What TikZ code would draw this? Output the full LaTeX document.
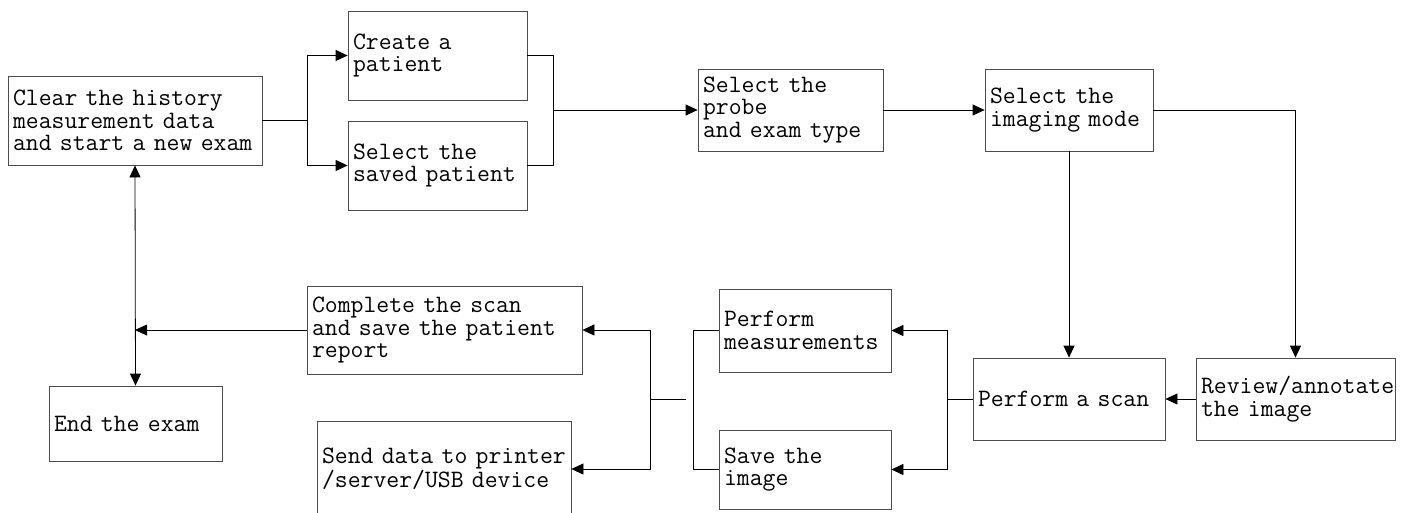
\documentclass[tikz,border=0pt]{standalone}
\usepackage{fontspec}
\usepackage{tikz}
\usetikzlibrary{arrows.meta}

\begin{document}
\begin{tikzpicture}[x=1pt, y=-1pt,
    stepbox/.style={draw=black!70, line width=0.8pt, rectangle, inner xsep=5pt, inner ysep=0pt,
      align=left, font=\fontsize{25}{22.5}\selectfont\ttfamily},
    flow/.style={-{Triangle[length=12pt, width=11pt]}, line width=0.8pt},
    link/.style={line width=0.8pt}]
  \useasboundingbox (0,0) rectangle (1404,512);
  \clip (0,0) rectangle (1404,512);
  \fill[white] (0,0) rectangle (1404,512);

  % upper row
  \node[stepbox, text width=244pt, minimum height=89pt] (clear) at (135,120.5) {Clear the history\\measurement data\\and start a new exam};
  \node[stepbox, text width=169pt, minimum height=89pt] (create) at (437.5,55.5) {Create a\\patient};
  \node[stepbox, text width=169pt, minimum height=89pt] (saved) at (437.5,165.5) {Select the\\saved patient};
  \node[stepbox, text width=175pt, minimum height=82pt] (probe) at (790.5,110) {Select the\\probe\\and exam type};
  \node[stepbox, text width=158pt, minimum height=82pt] (imaging) at (1069,110) {Select the\\imaging mode};

  % lower row
  \node[stepbox, text width=189pt, minimum height=82pt] (review) at (1295.5,399) {Review/annotate\\the image};
  \node[stepbox, text width=182pt, minimum height=82pt] (scan) at (1069,399) {Perform a scan};
  \node[stepbox, text width=162pt, minimum height=83pt] (meas) at (805,330.5) {Perform\\measurements};
  \node[stepbox, text width=162pt, minimum height=79pt] (saveimg) at (805,469.5) {Save the\\image};
  \node[stepbox, text width=265pt, minimum height=88pt] (complete) at (444.5,330) {Complete the scan\\and save the patient\\report};
  \node[stepbox, text width=244pt, minimum height=96pt] (send) at (444,469) {Send data to printer\\/server/USB device};
  \node[stepbox, text width=163pt, minimum height=75pt] (end) at (135.5,423.5) {End the exam};

  % junctions
  \coordinate (split1) at (307,120.5);
  \coordinate (join1) at (553,110);
  \coordinate (split2) at (947,399);
  \coordinate (join2) at (693,399);
  \coordinate (stubend) at (686,399);
  \coordinate (split3) at (650,399);
  \coordinate (merge) at (135,330);

  \draw[link] (clear.east) -- (split1);
  \draw[flow] (split1) |- (create.west);
  \draw[flow] (split1) |- (saved.west);
  \draw[link] (create.east) -| (join1);
  \draw[link] (saved.east) -| (join1);
  \draw[flow] (join1) -- (probe.west);
  \draw[flow] (probe.east) -- (imaging.west);
  \draw[flow] (imaging.south) -- (scan.north);
  \draw[flow] (imaging.east) -| (review.north);
  \draw[flow] (review.west) -- (scan.east);
  \draw[link] (scan.west) -- (split2);
  \draw[flow] (split2) |- (meas.east);
  \draw[flow] (split2) |- (saveimg.east);
  \draw[link] (meas.west) -| (join2);
  \draw[link] (saveimg.west) -| (join2);
  \draw[link] (stubend) -- (split3);
  \draw[flow] (split3) |- (complete.east);
  \draw[flow] (split3) |- (send.east);
  \draw[flow] (complete.west) -- (merge);
  \draw[flow, {Triangle[length=12pt, width=11pt]}-{Triangle[length=12pt, width=11pt]}] (clear.south) -- (end.north);
\end{tikzpicture}
\end{document}
